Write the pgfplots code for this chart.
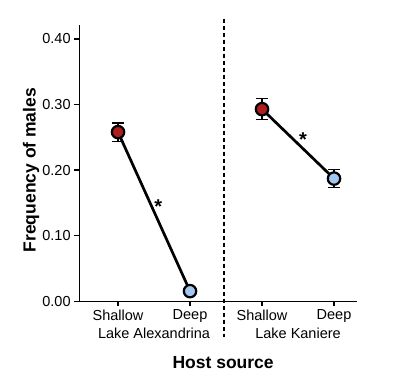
\documentclass[border=0pt]{standalone}
\usepackage{fontspec}
\setmainfont{Liberation Sans}
\usepackage{pgfplots}
\pgfplotsset{compat=1.18}
\definecolor{mred}{RGB}{175,30,30}
\definecolor{mblue}{RGB}{160,200,240}
\begin{document}
\begin{tikzpicture}
\begin{axis}[
 scale only axis, width=278pt, height=276pt,
 xmin=0.46, xmax=4.32, ymin=0, ymax=0.421,
 axis x line*=bottom, axis y line*=left,
 axis line style={line width=1.2pt},
 tick align=outside, major tick length=5pt,
 tick style={line width=1.2pt, black},
 xtick={1,2,3,4}, xticklabels={Shallow,Deep,Shallow,Deep},
 ytick={0,0.1,0.2,0.3,0.4},
 scaled y ticks=false,
 y tick label style={/pgf/number format/fixed, /pgf/number format/fixed zerofill, /pgf/number format/precision=2},
 /pgf/number format/assume math mode=true,
 ticklabel style={font=\fontsize{14.5}{16}\selectfont},
 clip=false,
 xlabel={Host source}, ylabel={Frequency of males},
 label style={font=\bfseries\fontsize{17.5}{19}\selectfont},
 xlabel style={at={(axis description cs:0.518,-0.221)}, anchor=center},
 ylabel style={at={(axis description cs:-0.173,0.475)}, anchor=center},
]
\addplot[line width=2.7pt, black, mark=none] coordinates {(1,0.258) (2,0.0153)};
\addplot[line width=2.7pt, black, mark=none] coordinates {(3,0.293) (4,0.187)};
\addplot[draw=none, mark=none, error bars/.cd, y dir=both, y explicit,
  error bar style={line width=1.3pt, black},
  error mark options={rotate=90, mark size=6pt, line width=1.3pt, black}]
  coordinates {(1,0.258) +- (0,0.014) (2,0.0153) +- (0,0.004) (3,0.293) +- (0,0.016) (4,0.187) +- (0,0.014)};
\addplot[only marks, mark=*, mark size=6.2pt, mark options={fill=mred, draw=black, line width=2.2pt}] coordinates {(1,0.258) (3,0.293)};
\addplot[only marks, mark=*, mark size=6.2pt, mark options={fill=mblue, draw=black, line width=2.2pt}] coordinates {(2,0.0153) (4,0.187)};
\draw[line width=1.6pt, dash pattern=on 4pt off 3pt] (axis cs:2.47,0.431) -- (axis cs:2.47,-0.055);
\node[font=\fontsize{14.5}{16}\selectfont] at (axis cs:1.5,-0.049) {Lake Alexandrina};
\node[font=\fontsize{14.5}{16}\selectfont] at (axis cs:3.5,-0.049) {Lake Kaniere};
\node[font=\bfseries\fontsize{20}{20}\selectfont] at (axis cs:1.56,0.145) {*};
\node[font=\bfseries\fontsize{20}{20}\selectfont] at (axis cs:3.57,0.247) {*};
\path (axis cs:-0.639,-0.119) rectangle (axis cs:4.944,0.4595);
\end{axis}
\end{tikzpicture}
\end{document}
